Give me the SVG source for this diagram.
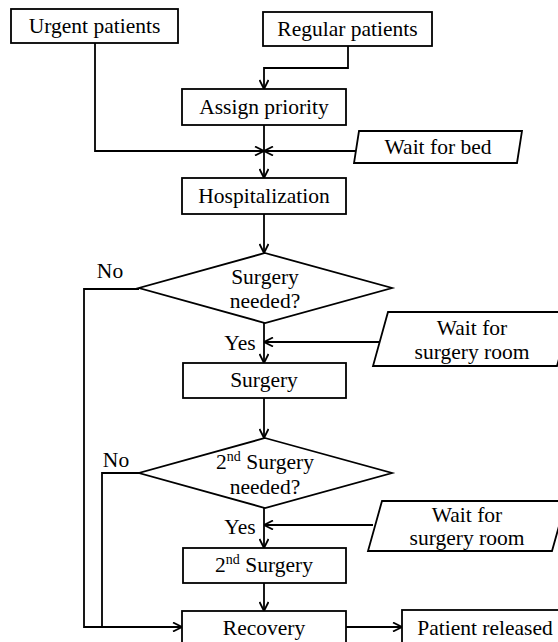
<svg xmlns="http://www.w3.org/2000/svg" width="558" height="642" viewBox="0 0 558 642">
  <style>
    .box { fill: #fff; stroke: #000; stroke-width: 1.8; }
    .ln { fill: none; stroke: #000; stroke-width: 1.8; }
    .sup { font-size: 14px; }
  </style>
  <defs>
    <marker id="head" viewBox="0 0 10 10" refX="10" refY="5" markerWidth="10" markerHeight="10" markerUnits="userSpaceOnUse" orient="auto">
      <path d="M1,0.5 L10,5 L1,9.5" fill="none" stroke="#000" stroke-width="1.8"/>
    </marker>
  </defs>

  <rect width="558" height="642" fill="#fff"/>

  <g id="connectors">
    <path class="ln" d="M348,46 V68 H264 V89" marker-end="url(#head)"/>
    <path class="ln" d="M95,43 V151 H264" marker-end="url(#head)"/>
    <path class="ln" d="M356,151 H264" marker-end="url(#head)"/>
    <path class="ln" d="M264,125 V178" marker-end="url(#head)"/>
    <path class="ln" d="M264,214 V253" marker-end="url(#head)"/>
    <path class="ln" d="M264,323 V363" marker-end="url(#head)"/>
    <path class="ln" d="M380,342 H264" marker-end="url(#head)"/>
    <path class="ln" d="M264,398 V438" marker-end="url(#head)"/>
    <path class="ln" d="M264,508 V548" marker-end="url(#head)"/>
    <path class="ln" d="M373,525 H264" marker-end="url(#head)"/>
    <path class="ln" d="M264,583 V611" marker-end="url(#head)"/>
    <path class="ln" d="M139,289 H84 V627 H182" marker-end="url(#head)"/>
    <path class="ln" d="M139,473 H102 V627"/>
    <path class="ln" d="M346,627 H402" marker-end="url(#head)"/>
  </g>

  <g font-family="Liberation Serif, DejaVu Serif, serif" font-size="21.5" text-anchor="middle" dominant-baseline="central" fill="#000">
    <g id="urgent">
      <rect class="box" x="11" y="9" width="167" height="34"/>
      <text x="94.5" y="26">Urgent patients</text>
    </g>
    <g id="regular">
      <rect class="box" x="263" y="12" width="169" height="34"/>
      <text x="347.5" y="29">Regular patients</text>
    </g>
    <g id="assign">
      <rect class="box" x="182" y="89" width="164" height="36"/>
      <text x="264" y="107">Assign priority</text>
    </g>
    <g id="wait-bed">
      <polygon class="box" points="359,131 522,131 517,163 354,163"/>
      <text x="438" y="147">Wait for bed</text>
    </g>
    <g id="hospitalization">
      <rect class="box" x="182" y="178" width="164" height="36"/>
      <text x="264" y="196">Hospitalization</text>
    </g>
    <g id="decision-surgery">
      <polygon class="box" points="265,253 392,288 265,323 139,288"/>
      <text x="265" y="277">Surgery</text>
      <text x="265" y="301">needed?</text>
      <text x="110" y="271">No</text>
      <text x="240" y="343">Yes</text>
    </g>
    <g id="wait-room-1">
      <polygon class="box" points="388,312 572,312 557,366 373,366"/>
      <text x="472" y="328">Wait for</text>
      <text x="472" y="352">surgery room</text>
    </g>
    <g id="surgery">
      <rect class="box" x="183" y="363" width="163" height="35"/>
      <text x="264" y="380">Surgery</text>
    </g>
    <g id="decision-second">
      <polygon class="box" points="265,438 392,473 265,508 139,473"/>
      <text x="265" y="462">2<tspan class="sup" dy="-6">nd</tspan><tspan dy="6"> Surgery</tspan></text>
      <text x="265" y="487">needed?</text>
      <text x="116" y="460">No</text>
      <text x="240" y="527">Yes</text>
    </g>
    <g id="wait-room-2">
      <polygon class="box" points="382,501 566,501 552,551 368,551"/>
      <text x="467" y="515">Wait for</text>
      <text x="467" y="538">surgery room</text>
    </g>
    <g id="second-surgery">
      <rect class="box" x="183" y="548" width="163" height="35"/>
      <text x="264" y="565">2<tspan class="sup" dy="-6">nd</tspan><tspan dy="6"> Surgery</tspan></text>
    </g>
    <g id="recovery">
      <rect class="box" x="182" y="611" width="164" height="45"/>
      <text x="264" y="628">Recovery</text>
    </g>
    <g id="released">
      <rect class="box" x="402" y="610" width="170" height="46"/>
      <text x="485" y="628">Patient released</text>
    </g>
  </g>
</svg>
